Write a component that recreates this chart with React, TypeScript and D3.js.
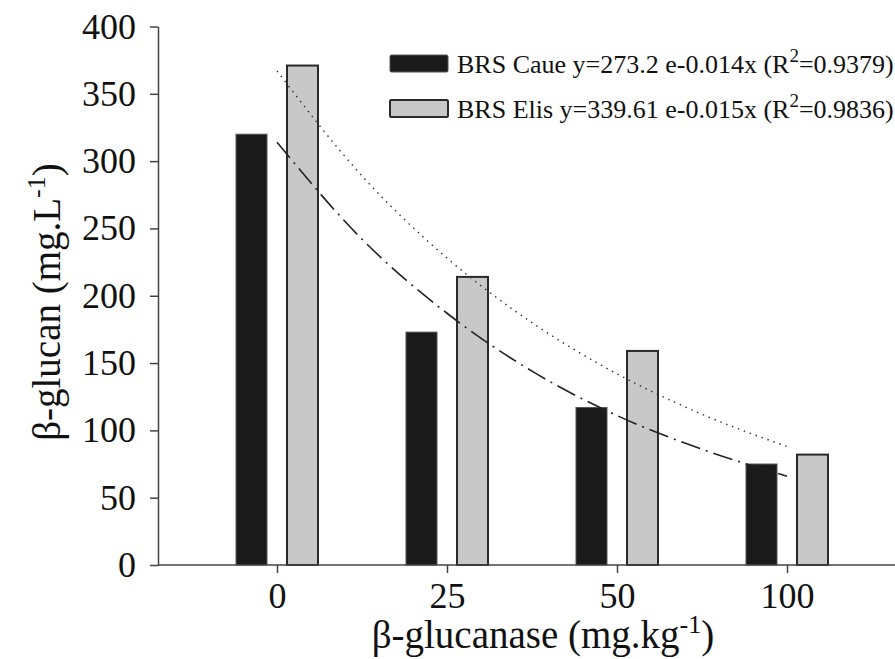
import React, {useEffect, useRef} from "react";
import * as d3 from "d3";

// bar data
const categories = ["0", "25", "50", "100"];
const caueValues = [320, 173, 117, 75];
const elisValues = [371, 214, 159, 82];
const yTicks = [0, 50, 100, 150, 200, 250, 300, 350, 400];

// fitted curves, sampled along the category axis (0 = first group, 3 = last)
const fitPositions = [0, 0.5, 1, 1.5, 2, 2.5, 3];
const caueFit = [314, 242, 187, 144, 111, 86, 66];
const elisFit = [367, 289, 228, 180, 142, 112, 88];

const legendLabels = [
  ["BRS Caue y=273.2 e-0.014x (R", "2", "=0.9379)"],
  ["BRS Elis y=339.61 e-0.015x (R", "2", "=0.9836)"],
];

export default function App() {
  const ref = useRef<SVGSVGElement>(null);
  const width = 895;
  const height = 659;
  const left = 158;
  const bottom = 565;
  const top = 26.5;
  const font = "'Liberation Serif', 'Times New Roman', serif";
  const axisColor = "#444";

  useEffect(() => {
    const svg = d3.select(ref.current);
    svg.selectAll("*").remove();

    const xScale = d3.scalePoint<string>().domain(categories).range([277, 787]);
    const yScale = d3.scaleLinear().domain([0, 400]).range([bottom, top]);
    const fitX = d3.scaleLinear().domain([0, 3]).range([277, 787]);
    const barW = 31;

    // bars
    const bars = svg.append("g");
    bars.selectAll("rect.caue")
      .data(caueValues)
      .join("rect")
      .attr("class", "caue")
      .attr("x", (d, i) => xScale(categories[i])! - 41)
      .attr("y", d => yScale(d))
      .attr("width", barW)
      .attr("height", d => bottom - yScale(d))
      .attr("fill", "#1a1a1a")
      .attr("stroke", "#555")
      .attr("stroke-width", 1);
    bars.selectAll("rect.elis")
      .data(elisValues)
      .join("rect")
      .attr("class", "elis")
      .attr("x", (d, i) => xScale(categories[i])! + 10)
      .attr("y", d => yScale(d))
      .attr("width", barW)
      .attr("height", d => bottom - yScale(d))
      .attr("fill", "#c8c8c8")
      .attr("stroke", "#2a2a2a")
      .attr("stroke-width", 2);

    // fitted curves
    const line = d3.line<number>()
      .x((d, i) => fitX(fitPositions[i]))
      .y(d => yScale(d))
      .curve(d3.curveMonotoneX);
    svg.append("path")
      .attr("d", line(caueFit))
      .attr("fill", "none")
      .attr("stroke", "#222")
      .attr("stroke-width", 1.6)
      .attr("stroke-dasharray", "20,6,2,6");
    svg.append("path")
      .attr("d", line(elisFit))
      .attr("fill", "none")
      .attr("stroke", "#333")
      .attr("stroke-width", 1.4)
      .attr("stroke-dasharray", "1.5,4.8");

    // y axis
    const yAxis = svg.append("g")
      .attr("transform", `translate(${left},0)`)
      .call(d3.axisLeft(yScale).tickValues(yTicks).tickSize(8).tickPadding(14).tickSizeOuter(0));
    yAxis.select(".domain").attr("stroke", axisColor).attr("stroke-width", 1.5);
    yAxis.selectAll(".tick line").attr("stroke", axisColor).attr("stroke-width", 1.5);
    yAxis.selectAll(".tick text")
      .attr("font-family", font)
      .attr("font-size", 36)
      .attr("fill", "#111");

    // x axis
    const xAxis = svg.append("g")
      .attr("transform", `translate(0,${bottom})`)
      .call(d3.axisBottom(xScale).tickSize(8).tickPadding(9).tickSizeOuter(0));
    xAxis.select(".domain")
      .attr("d", `M${left},0H${width}`)
      .attr("stroke", axisColor)
      .attr("stroke-width", 1.5);
    xAxis.selectAll(".tick line").attr("stroke", axisColor).attr("stroke-width", 1.5);
    xAxis.selectAll(".tick text")
      .attr("font-family", font)
      .attr("font-size", 36)
      .attr("fill", "#111");

    // axis titles
    const xTitle = svg.append("text")
      .attr("x", 543)
      .attr("y", 648)
      .attr("text-anchor", "middle")
      .attr("font-family", font)
      .attr("font-size", 39)
      .attr("fill", "#111");
    xTitle.append("tspan").text("β-glucanase (mg.kg");
    xTitle.append("tspan").attr("dy", -15).attr("font-size", 26).text("-1");
    xTitle.append("tspan").attr("dy", 15).text(")");

    const yTitle = svg.append("text")
      .attr("transform", "translate(60,302) rotate(-90)")
      .attr("text-anchor", "middle")
      .attr("font-family", font)
      .attr("font-size", 39)
      .attr("fill", "#111");
    yTitle.append("tspan").text("β-glucan (mg.L");
    yTitle.append("tspan").attr("dy", -15).attr("font-size", 26).text("-1");
    yTitle.append("tspan").attr("dy", 15).text(")");

    // legend
    const legend = svg.append("g").attr("transform", "translate(390,55)");
    const rows = legend.selectAll("g")
      .data(legendLabels)
      .join("g")
      .attr("transform", (d, i) => `translate(0,${i * 45})`);
    rows.append("rect")
      .attr("width", 58)
      .attr("height", 17)
      .attr("rx", 1.5)
      .attr("fill", (d, i) => (i === 0 ? "#1a1a1a" : "#c8c8c8"))
      .attr("stroke", (d, i) => (i === 0 ? "#555" : "#2a2a2a"))
      .attr("stroke-width", (d, i) => (i === 0 ? 1 : 2));
    const labels = rows.append("text")
      .attr("x", 67)
      .attr("y", 18)
      .attr("font-family", font)
      .attr("font-size", 26)
      .attr("fill", "#111");
    labels.append("tspan").text(d => d[0]);
    labels.append("tspan").attr("dy", -11).attr("font-size", 19).text(d => d[1]);
    labels.append("tspan").attr("dy", 11).text(d => d[2]);
  }, []);

  return (
    <div>
      <svg ref={ref} width={width} height={height}
        style={{position: "absolute", left: 0, top: 0, background: "#fff"}}/>
    </div>
  );
}
